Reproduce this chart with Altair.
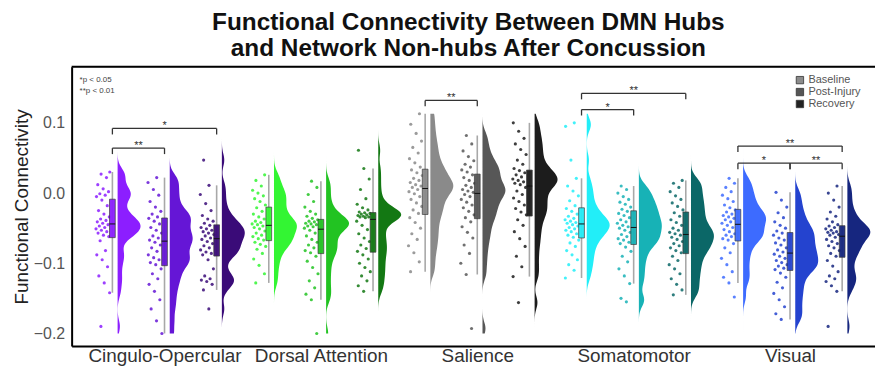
import altair as alt
import pandas as pd

groups = ["Cingulo-Opercular", "Dorsal Attention", "Salience", "Somatomotor", "Visual"]
conditions = ["Baseline", "Post-Injury", "Recovery"]
palette = [
    ["#8c1eff", "#6516d6", "#3a0b78"],
    ["#33f533", "#22c322", "#137813"],
    ["#8a8a8a", "#575757", "#1c1c1c"],
    ["#22eef8", "#17b2b6", "#0b6767"],
    ["#3d6bff", "#2443cf", "#16267f"],
]
legend_grays = ["#8c8c8c", "#555555", "#222222"]

co_baseline = [0.030, 0.027, 0.022, 0.012, 0.006, 0.002, -0.001, -0.003, -0.005,
               -0.010, -0.018, -0.025, -0.030, -0.034, -0.037, -0.039, -0.041, -0.043,
               -0.045, -0.047, -0.049, -0.051, -0.053, -0.055, -0.057, -0.060, -0.062,
               -0.068, -0.082, -0.088, -0.095, -0.105, -0.118, -0.128, -0.142, -0.190]
co_post = [0.022, 0.015, 0.005, -0.003, -0.012, -0.020, -0.026, -0.030, -0.034,
           -0.036, -0.040, -0.044, -0.049, -0.053, -0.057, -0.061, -0.064, -0.067,
           -0.070, -0.074, -0.078, -0.083, -0.088, -0.092, -0.095, -0.099, -0.102,
           -0.108, -0.115, -0.122, -0.130, -0.140, -0.152, -0.165, -0.182, -0.200]
co_recovery = [0.047, 0.011, -0.002, -0.015, -0.025, -0.032, -0.037, -0.040, -0.043,
               -0.046, -0.049, -0.051, -0.053, -0.055, -0.057, -0.059, -0.061, -0.064,
               -0.066, -0.069, -0.072, -0.075, -0.078, -0.081, -0.084, -0.086, -0.088,
               -0.095, -0.108, -0.118, -0.122, -0.124, -0.126, -0.130, -0.138, -0.165]
da_baseline = [0.026, 0.018, 0.010, 0.004, 0.000, -0.004, -0.008, -0.012, -0.017,
               -0.021, -0.026, -0.030, -0.034, -0.037, -0.040, -0.042, -0.044, -0.045,
               -0.047, -0.049, -0.051, -0.054, -0.057, -0.060, -0.062, -0.065, -0.067,
               -0.070, -0.073, -0.076, -0.080, -0.086, -0.094, -0.103, -0.115, -0.128]
da_post = [0.017, 0.008, -0.002, -0.012, -0.020, -0.026, -0.030, -0.033, -0.036,
           -0.038, -0.040, -0.041, -0.043, -0.044, -0.045, -0.047, -0.048, -0.050,
           -0.053, -0.057, -0.061, -0.066, -0.070, -0.074, -0.078, -0.082, -0.085,
           -0.090, -0.097, -0.106, -0.115, -0.125, -0.135, -0.144, -0.152, -0.200]
da_recovery = [0.061, 0.035, 0.020, 0.005, -0.008, -0.016, -0.021, -0.024, -0.027,
               -0.028, -0.029, -0.030, -0.031, -0.032, -0.033, -0.034, -0.034, -0.035,
               -0.040, -0.046, -0.052, -0.058, -0.064, -0.069, -0.074, -0.079, -0.083,
               -0.088, -0.094, -0.100, -0.106, -0.112, -0.118, -0.125, -0.132, -0.140]
sal_baseline = [0.113, 0.098, 0.085, 0.074, 0.065, 0.057, 0.049, 0.043, 0.037,
                0.033, 0.029, 0.025, 0.021, 0.018, 0.015, 0.012, 0.010, 0.008,
                0.005, 0.002, -0.001, -0.005, -0.009, -0.014, -0.019, -0.024, -0.029,
                -0.035, -0.042, -0.050, -0.058, -0.066, -0.075, -0.085, -0.098, -0.112]
sal_post = [0.082, 0.070, 0.060, 0.052, 0.046, 0.041, 0.037, 0.033, 0.030,
            0.026, 0.022, 0.018, 0.014, 0.011, 0.008, 0.005, 0.003, 0.001,
            -0.002, -0.005, -0.009, -0.013, -0.017, -0.021, -0.026, -0.031, -0.035,
            -0.041, -0.048, -0.056, -0.064, -0.074, -0.086, -0.100, -0.116, -0.193]
sal_recovery = [0.100, 0.088, 0.078, 0.070, 0.062, 0.055, 0.047, 0.041, 0.035,
                0.032, 0.029, 0.026, 0.023, 0.020, 0.018, 0.016, 0.014, 0.012,
                0.008, 0.003, -0.002, -0.007, -0.012, -0.017, -0.022, -0.027, -0.031,
                -0.038, -0.046, -0.055, -0.065, -0.076, -0.090, -0.105, -0.119, -0.156]
som_baseline = [0.100, 0.095, 0.047, 0.021, 0.010, 0.003, -0.004, -0.011, -0.018,
                -0.022, -0.026, -0.030, -0.033, -0.036, -0.038, -0.040, -0.042, -0.043,
                -0.045, -0.047, -0.049, -0.051, -0.053, -0.055, -0.058, -0.060, -0.063,
                -0.067, -0.071, -0.076, -0.082, -0.088, -0.095, -0.102, -0.110, -0.121]
som_post = [0.010, 0.005, 0.000, -0.005, -0.009, -0.013, -0.016, -0.020, -0.023,
            -0.026, -0.029, -0.032, -0.035, -0.038, -0.041, -0.043, -0.046, -0.048,
            -0.050, -0.053, -0.056, -0.059, -0.062, -0.065, -0.067, -0.070, -0.072,
            -0.077, -0.083, -0.090, -0.098, -0.108, -0.118, -0.129, -0.150, -0.155]
som_recovery = [0.018, 0.014, 0.008, 0.002, -0.004, -0.009, -0.014, -0.019, -0.024,
                -0.028, -0.033, -0.038, -0.042, -0.046, -0.050, -0.053, -0.056, -0.058,
                -0.060, -0.063, -0.066, -0.069, -0.072, -0.075, -0.078, -0.082, -0.085,
                -0.090, -0.096, -0.102, -0.108, -0.115, -0.122, -0.130, -0.138, -0.145]
vis_baseline = [0.021, 0.014, 0.008, 0.002, -0.003, -0.008, -0.012, -0.017, -0.021,
                -0.024, -0.027, -0.030, -0.032, -0.034, -0.036, -0.038, -0.041, -0.043,
                -0.046, -0.049, -0.052, -0.055, -0.058, -0.060, -0.062, -0.065, -0.067,
                -0.072, -0.078, -0.085, -0.093, -0.102, -0.112, -0.120, -0.128, -0.148]
vis_post = [0.001, -0.010, -0.020, -0.028, -0.035, -0.041, -0.046, -0.050, -0.054,
            -0.057, -0.060, -0.064, -0.067, -0.071, -0.074, -0.078, -0.081, -0.084,
            -0.087, -0.090, -0.093, -0.096, -0.099, -0.102, -0.104, -0.107, -0.109,
            -0.114, -0.120, -0.127, -0.135, -0.143, -0.152, -0.162, -0.172, -0.180]
vis_recovery = [0.010, 0.000, -0.010, -0.020, -0.027, -0.033, -0.037, -0.041, -0.045,
                -0.047, -0.049, -0.051, -0.053, -0.055, -0.056, -0.057, -0.059, -0.060,
                -0.063, -0.066, -0.069, -0.072, -0.075, -0.078, -0.082, -0.086, -0.090,
                -0.096, -0.104, -0.112, -0.118, -0.122, -0.126, -0.132, -0.140, -0.190]

series = [
    [co_baseline, co_post, co_recovery],
    [da_baseline, da_post, da_recovery],
    [sal_baseline, sal_post, sal_recovery],
    [som_baseline, som_post, som_recovery],
    [vis_baseline, vis_post, vis_recovery],
]

# significance brackets (position index = 3*group + condition)
br_from = [0, 0, 6, 9, 9, 12, 12, 13]
br_to = [1, 2, 7, 11, 10, 14, 13, 14]
br_y = [0.064, 0.092, 0.132, 0.142, 0.119, 0.067, 0.0425, 0.0425]
br_label = ["**", "*", "**", "**", "*", "**", "*", "**"]

title_lines = ["Functional Connectivity Between DMN Hubs",
               "\u00a0\u00a0\u00a0\u00a0and Network Non-hubs After Concussion"]

rows = []
for g, gname in enumerate(groups):
    for c, cname in enumerate(conditions):
        for i, v in enumerate(series[g][c]):
            rows.append({"pos": 3 * g + c, "group": gname, "cond": cname,
                         "col": palette[g][c], "v": v, "idx": i})
df = pd.DataFrame(rows)

br_df = pd.DataFrame({"x1": br_from, "x2": br_to, "y": br_y, "label": br_label})

W, H = 808, 281
xscale = alt.Scale(domain=[-0.782, 14.63], nice=False, zero=False)
yscale = alt.Scale(domain=[-0.218, 0.180], nice=False, zero=False)

label_expr = "[" + ",".join("'" + n + "'" for n in groups) + "][round((datum.value - 1) / 3)]"

x_axis = alt.Axis(values=[1, 4, 7, 10, 13], labelExpr=label_expr, ticks=False, grid=False,
                  labelFontSize=19, labelColor="#333333", labelPadding=1,
                  domainColor="black", domainWidth=2, title=None,
                  labelFlush=False, labelOverlap=False)
y_axis = alt.Axis(values=[-0.2, -0.1, 0.0, 0.1], format=".1f", ticks=False, grid=False,
                  labelFontSize=16, labelColor="#555555", labelPadding=7,
                  domainColor="black", domainWidth=2,
                  title="Functional Connectivity", titleFontSize=19,
                  titleFontWeight="normal", titleColor="#222222", titlePadding=2)


def X(field):
    return alt.X(field, type="quantitative", scale=xscale, axis=x_axis)


def Y(field):
    return alt.Y(field, type="quantitative", scale=yscale, axis=y_axis)


base = alt.Chart(df)

# whiskers (1.5 IQR)
whiskers = base.transform_joinaggregate(
    q1="q1(v)", q3="q3(v)", groupby=["pos"]
).transform_calculate(
    lo="datum.q1 - 1.5 * (datum.q3 - datum.q1)",
    hi="datum.q3 + 1.5 * (datum.q3 - datum.q1)",
).transform_filter(
    "datum.v >= datum.lo && datum.v <= datum.hi"
).transform_aggregate(
    wmin="min(v)", wmax="max(v)", groupby=["pos"]
).mark_rule(color="#a8a8a8", strokeWidth=1.6).encode(
    x=X("pos"), y=Y("wmin"), y2="wmax:Q",
)

# jittered points
points = base.transform_calculate(
    jx="datum.pos - 0.05 - 0.27 * ((datum.idx * 0.618034 + datum.pos * 0.37) % 1)"
).mark_circle(size=10, opacity=0.85).encode(
    x=X("jx"), y=Y("v"),
    color=alt.Color("col:N", scale=None),
)

# box
boxes = base.transform_aggregate(
    q1="q1(v)", q3="q3(v)", med="median(v)", groupby=["pos", "col"]
).transform_calculate(
    bx1="datum.pos - 0.055", bx2="datum.pos + 0.055"
)
box_rect = boxes.mark_rect(stroke="#333333", strokeWidth=0.7, opacity=0.95).encode(
    x=X("bx1"), x2="bx2:Q", y=Y("q1"), y2="q3:Q",
    color=alt.Color("col:N", scale=None),
)
box_med = boxes.mark_rule(color="#111111", strokeWidth=1).encode(
    x=X("bx1"), x2="bx2:Q", y=Y("med"),
)

# half violins
violins = base.transform_density(
    "v", groupby=["pos", "col"], bandwidth=0.009, steps=140, as_=["v", "density"]
).transform_joinaggregate(
    maxd="max(density)", groupby=["pos"]
).transform_calculate(
    vx1="datum.pos + 0.1",
    vx2="datum.pos + 0.1 + 0.44 * datum.density / datum.maxd",
).mark_area(orient="horizontal", opacity=1).encode(
    y=Y("v"), x=X("vx1"), x2="vx2:Q",
    color=alt.Color("col:N", scale=None),
    detail="pos:N",
)

# significance brackets
brb = alt.Chart(br_df).transform_calculate(
    ytip="datum.y - 0.0085", xm="(datum.x1 + datum.x2) / 2"
)
br_h = brb.mark_rule(color="#333333", strokeWidth=1.3).encode(
    x=X("x1"), x2="x2:Q", y=Y("y"),
)
br_l = brb.mark_rule(color="#333333", strokeWidth=1.3).encode(
    x=X("x1"), y=Y("y"), y2="ytip:Q",
)
br_r = brb.mark_rule(color="#333333", strokeWidth=1.3).encode(
    x=X("x2"), y=Y("y"), y2="ytip:Q",
)
br_t = brb.mark_text(fontSize=11, color="#333333", baseline="bottom", dy=3).encode(
    x=X("xm"), y=Y("y"), text="label:N",
)

# p-value note
note_df = pd.DataFrame({"t": ["*p < 0.05\n**p < 0.01"]})
note = alt.Chart(note_df).mark_text(
    align="left", baseline="top", fontSize=8, lineHeight=11, color="#444444", lineBreak="\n"
).encode(x=alt.value(8), y=alt.value(9), text="t:N")

# top frame line
frame_df = pd.DataFrame({"a": [0]})
top_line = alt.Chart(frame_df).mark_rule(color="black", strokeWidth=2).encode(
    x=alt.value(0), x2=alt.value(W), y=alt.value(0)
)

# legend
leg_df = pd.DataFrame({"cond": conditions})
legend_layer = alt.Chart(leg_df).mark_square(size=1, opacity=0).encode(
    x=alt.value(0), y=alt.value(0),
    fill=alt.Fill("cond:N", scale=alt.Scale(domain=conditions, range=legend_grays),
                  legend=alt.Legend(title=None, orient="none", legendX=727, legendY=8,
                                    symbolType="square", symbolSize=55, symbolOpacity=1,
                                    symbolStrokeColor="#333333", symbolStrokeWidth=0.8,
                                    labelFontSize=11, labelColor="#555555",
                                    rowPadding=0, labelOffset=3)),
)

chart = alt.layer(
    whiskers, violins, points, box_rect, box_med,
    br_h, br_l, br_r, br_t, note, top_line, legend_layer
).properties(
    width=W, height=H,
    autosize=alt.AutoSizeParams(type="none"),
    padding={"left": 64, "top": 58, "right": 0, "bottom": 22},
    title=alt.TitleParams(
        title_lines,
        fontSize=24.5, fontWeight="bold", color="#111111", anchor="middle",
        offset=4, lineHeight=26, font="Liberation Sans", dx=-5,
    ),
).configure_view(stroke=None).configure(font="Liberation Sans")

chart.save("out.html", embed_options={"renderer": "svg", "actions": False})
